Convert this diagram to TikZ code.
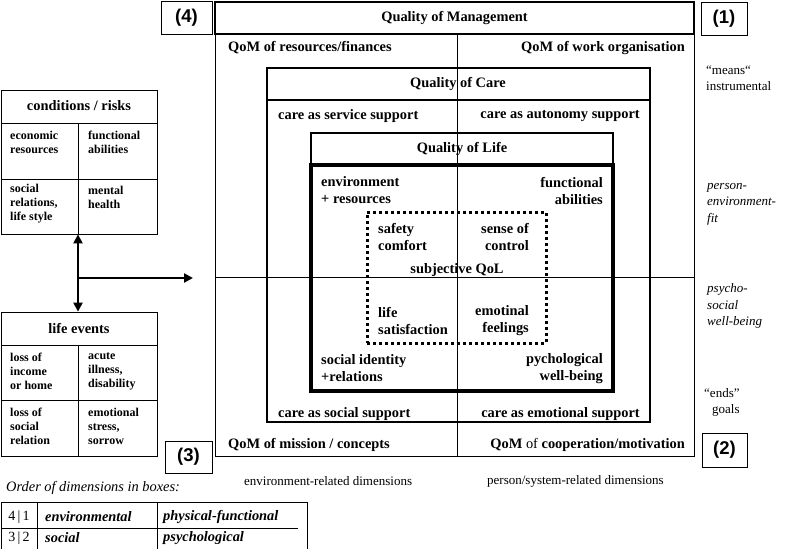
\documentclass[tikz,border=0pt]{standalone}
\usepackage{fontspec}
\setmainfont{Liberation Serif}[BoldItalicFont={Liberation Serif Bold Italic}, ItalicFont={Liberation Serif Italic}]
\newfontfamily\sansb{Liberation Sans}
\usetikzlibrary{arrows.meta,fit}
\begin{document}
\begin{tikzpicture}[x=1pt,y=-1pt,
  box/.style={draw, line width=0.8pt, inner sep=0pt},
  numbox/.style={draw, line width=0.8pt, inner sep=0pt},
  numtxt/.style={font=\sansb\bfseries\fontsize{18.5}{20}\selectfont, inner sep=0pt},
  bl/.style={font=\fontsize{14.4}{17}\selectfont\bfseries, inner sep=0pt, align=left},
  blr/.style={bl, align=right},
  sm/.style={font=\fontsize{12}{14}\selectfont\bfseries, inner sep=0pt, align=left},
  rg/.style={font=\fontsize{13}{16}\selectfont, inner sep=0pt, align=left},
  itx/.style={font=\fontsize{13}{16.5}\selectfont\itshape, inner sep=0pt, align=left},
  tb/.style={font=\fontsize{14.4}{17}\selectfont\bfseries\itshape, inner sep=0pt},
  tr/.style={font=\fontsize{14}{17}\selectfont, inner sep=0pt},
  arr/.style={line width=2.6pt, >={Triangle[length=9pt,width=9pt]}},
  thin/.style={line width=0.8pt},
]
\useasboundingbox (0,0) rectangle (793,549);

% ---------- main frame ----------
\node[box, fit={(215,34) (694,456)}] (frame) {};
\node[draw, line width=1.8pt, inner sep=0pt, fit={(215,2) (694,34)}] (qomt) {};
\node[bl] (qomtxt) at (454.5,18) {Quality of Management};

\coordinate (ctop) at (457,34);
\coordinate (cbot) at (457,456);
\coordinate (hl) at (215,277);
\coordinate (hr) at (694,277);
\draw[thin] (ctop) -- (cbot);
\draw[thin] (hl) -- (hr);

\node[bl, anchor=west] (qom1) at (228,48) {QoM of resources/finances};
\node[bl, anchor=east] (qom2) at (685,48) {QoM of work organisation};
\node[bl, anchor=west] (qom3) at (228,445) {QoM of mission / concepts};
\node[bl, anchor=east] (qom4) at (685,445) {QoM \textmd{of} cooperation/motivation};

% ---------- quality of care ----------
\node[draw, line width=1.6pt, inner sep=0pt, fit={(267,68) (650,422)}] (qoc) {};
\coordinate (qocl) at (267,100);
\coordinate (qocr) at (650,100);
\draw[line width=1.6pt] (qocl) -- (qocr);
\node[bl] (qoctxt) at (458,84) {Quality of Care};
\node[bl, anchor=west] (c1) at (278,116) {care as service support};
\node[bl, anchor=east] (c2) at (640,116) {care as autonomy support};
\node[bl, anchor=west] (c3) at (278,414) {care as social support};
\node[bl, anchor=east] (c4) at (640,414) {care as emotional support};

% ---------- quality of life ----------
\node[draw, line width=2.2pt, inner sep=0pt, fit={(311,133) (613,165)}] (qolt) {};
\node[draw, line width=3.6pt, inner sep=0pt, fit={(311,165) (613,391)}] (qol) {};
\node[bl] (qoltxt) at (462,149) {Quality of Life};
\node[bl, anchor=west] (l1) at (321,190.5) {environment\\+ resources};
\node[blr, anchor=east] (l2) at (603,190.5) {functional\\abilities};
\node[bl, anchor=west] (l3) at (321,368.5) {social identity\\+relations};
\node[blr, anchor=east] (l4) at (603,368.5) {pychological\\well-being};

% ---------- subjective QoL ----------
\node[draw, line width=3pt, dash pattern=on 3pt off 3pt, inner sep=0pt, fit={(367,212) (546,343)}] (sqol) {};
\node[bl, anchor=west] (s1) at (378,236.5) {safety\\comfort};
\node[blr, anchor=east] (s2) at (529,236.5) {sense of\\control};
\node[bl] (s0) at (457,270) {subjective QoL};
\node[bl, anchor=west] (s3) at (378,320.5) {life\\satisfaction};
\node[blr, anchor=east] (s4) at (529,320.5) {emotinal\\feelings};

% ---------- number boxes ----------
\node[numbox, fit={(161,1) (212,34)}] (n4) {};
\node[numtxt] (n4t) at (n4.center) {(4)};
\node[numbox, fit={(701,2) (747,35)}] (n1) {};
\node[numtxt] (n1t) at (n1.center) {(1)};
\node[numbox, fit={(702,433) (747,467)}] (n2) {};
\node[numtxt] (n2t) at (n2.center) {(2)};
\node[numbox, fit={(165,441) (212,473)}] (n3) {};
\node[numtxt] (n3t) at (n3.center) {(3)};

% ---------- bottom dimension labels ----------
\node[rg, anchor=west] (d1) at (244,481) {environment-related dimensions};
\node[rg, anchor=west] (d2) at (487,481) {person/system-related dimensions};

% ---------- right labels ----------
\node[rg, anchor=west] (r1) at (706,78) {“means“\\instrumental};
\node[itx, anchor=west] (r2) at (707,204) {person-\\environment-\\fit};
\node[itx, anchor=west] (r3) at (707,306) {psycho-\\social\\well-being};
\node[rg, anchor=west] (r4) at (704,402) {“ends”\\\hspace{8pt}goals};

% ---------- conditions / risks ----------
\node[box, fit={(1,90) (157,234)}] (cond) {};
\coordinate (cd1) at (1,123);  \coordinate (cd2) at (157,123);
\coordinate (cd3) at (1,179);  \coordinate (cd4) at (157,179);
\coordinate (cd5) at (78,123); \coordinate (cd6) at (78,234);
\draw[thin] (cd1) -- (cd2);
\draw[thin] (cd3) -- (cd4);
\draw[thin] (cd5) -- (cd6);
\node[bl] (condt) at (79,106) {conditions / risks};
\node[sm, anchor=west] (k1) at (10,142.5) {economic\\resources};
\node[sm, anchor=west] (k2) at (88,142.5) {functional\\abilities};
\node[sm, anchor=west] (k3) at (10,204) {social\\relations,\\life style};
\node[sm, anchor=west] (k4) at (88,197) {mental\\health};

% ---------- life events ----------
\node[box, fit={(1,312) (157,456)}] (life) {};
\coordinate (le1) at (1,345);  \coordinate (le2) at (157,345);
\coordinate (le3) at (1,400);  \coordinate (le4) at (157,400);
\coordinate (le5) at (78,345); \coordinate (le6) at (78,456);
\draw[thin] (le1) -- (le2);
\draw[thin] (le3) -- (le4);
\draw[thin] (le5) -- (le6);
\node[bl] (lifet) at (79,328) {life events};
\node[sm, anchor=west] (e1) at (10,371) {loss of\\income\\or home};
\node[sm, anchor=west] (e2) at (88,371) {acute\\illness,\\disability};
\node[sm, anchor=west] (e3) at (10,426) {loss of\\social\\relation};
\node[sm, anchor=west] (e4) at (88,426) {emotional\\stress,\\sorrow};

% ---------- arrows ----------
\coordinate (cj) at (78,278);
\coordinate (tipc) at (193,278);
\draw[arr, <->] (cond.south -| cj) -- (life.north -| cj);
\draw[arr, ->] (cj) -- (tipc);

% ---------- legend table ----------
\node[font=\fontsize{14.4}{17}\selectfont\itshape, inner sep=0pt, anchor=west] (ord) at (6,488) {Order of dimensions in boxes:};
\node[box, fit={(1,502) (307,549)}] (tab) {};
\coordinate (t1) at (37,502);  \coordinate (t2) at (37,549);
\coordinate (t3) at (157,502); \coordinate (t4) at (157,549);
\coordinate (t5) at (1,528);   \coordinate (t6) at (298,528);
\draw[thin] (t1) -- (t2);
\draw[thin] (t3) -- (t4);
\draw[thin] (t5) -- (t6);
\node[tr] (a1) at (19,517) {4\,|\,1};
\node[tb, anchor=west] (a2) at (45,517) {environmental};
\node[tb, anchor=west] (a3) at (163,517) {physical-functional};
\node[tr] (b1) at (19,538) {3\,|\,2};
\node[tb, anchor=west] (b2) at (45,538) {social};
\node[tb, anchor=west] (b3) at (163,538) {psychological};
\end{tikzpicture}
\end{document}
